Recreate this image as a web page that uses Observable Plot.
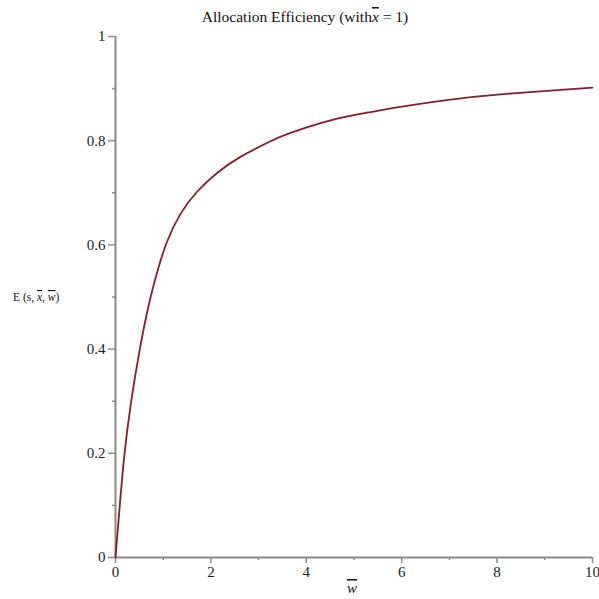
<!DOCTYPE html>
<html>
<head>
<meta charset="utf-8">
<script src="https://cdn.jsdelivr.net/npm/d3@7"></script>
<script src="https://cdn.jsdelivr.net/npm/@observablehq/plot@0.6"></script>
<style>
  html, body { margin: 0; padding: 0; background: #fff; }
</style>
</head>
<body>
<div id="chart"></div>
<script>
// Curve values (w̄ → E)
const wBar = [0, 0.09, 0.19, 0.33, 0.51, 0.71, 0.89, 1.08, 1.36, 1.71, 2.13, 2.62, 3.25, 3.67, 4.51, 5.35, 5.97, 7.02, 8.07, 9.12, 10];
const efficiency = [0, 0.1, 0.2, 0.3, 0.4, 0.49, 0.553, 0.606, 0.659, 0.702, 0.738, 0.769, 0.799, 0.815, 0.839, 0.855, 0.865, 0.879, 0.889, 0.896, 0.902];

const xMajorTicks = [0, 2, 4, 6, 8, 10];
const xMinorTicks = [1, 3, 5, 7, 9];
const yMajorTicks = [0, 0.2, 0.4, 0.6, 0.8, 1];
const yMinorTicks = [0.1, 0.3, 0.5, 0.7, 0.9];

const data = wBar.map((w, i) => ({w, E: efficiency[i]}));

const axisColor = "#8a8a8a";
const font = "'Liberation Serif', 'Times New Roman', serif";

const chart = Plot.plot({
  width: 599,
  height: 599,
  marginLeft: 115,
  marginRight: 7,
  marginTop: 36,
  marginBottom: 42,
  style: {fontFamily: font, fontSize: "15px", background: "#fff", color: "#222"},
  x: {domain: [0, 10]},
  y: {domain: [0, 1]},
  marks: [
    Plot.axisX(xMinorTicks, {tickSize: 3, tickFormat: () => "", stroke: axisColor, strokeWidth: 1.5, label: null}),
    Plot.axisY(yMinorTicks, {tickSize: 3, tickFormat: () => "", stroke: axisColor, strokeWidth: 1.5, label: null}),
    Plot.axisX(xMajorTicks, {tickSize: 6, tickPadding: 3, tickFormat: d => String(d), stroke: axisColor, strokeWidth: 1.5, fill: "#222", fontSize: 15, label: null}),
    Plot.axisY(yMajorTicks, {tickSize: 7, tickPadding: 3, tickFormat: d => String(d), stroke: axisColor, strokeWidth: 1.5, fill: "#222", fontSize: 15, label: null}),
    Plot.ruleY([0], {stroke: axisColor, strokeWidth: 2}),
    Plot.ruleX([0], {stroke: axisColor, strokeWidth: 2}),
    Plot.line(data, {x: "w", y: "E", stroke: "#8b1a2c", strokeWidth: 1.8, curve: "natural"})
  ]
});

document.getElementById("chart").appendChild(chart);

const svg = d3.select(chart);
// Title
const title = svg.append("text")
  .attr("x", 305).attr("y", 22)
  .attr("text-anchor", "middle")
  .attr("font-family", font).attr("font-size", 15.5).attr("fill", "#111");
title.append("tspan").text("Allocation Efficiency (with");
title.append("tspan").attr("font-style", "italic").attr("text-decoration", "overline").text("x");
title.append("tspan").text(" = 1)");

// Y label
const yl = svg.append("text")
  .attr("x", 13).attr("y", 301)
  .attr("text-anchor", "start")
  .attr("font-family", font).attr("font-size", 11.5).attr("fill", "#111");
yl.append("tspan").text("E (s, ");
yl.append("tspan").attr("font-style", "italic").attr("text-decoration", "overline").text("x");
yl.append("tspan").text(", ");
yl.append("tspan").attr("font-style", "italic").attr("text-decoration", "overline").text("w");
yl.append("tspan").text(")");

// X label
svg.append("text")
  .attr("x", 352).attr("y", 593)
  .attr("text-anchor", "middle")
  .attr("font-family", font).attr("font-size", 15).attr("font-style", "italic")
  .attr("text-decoration", "overline").attr("fill", "#111")
  .text("w");
</script>
</body>
</html>
